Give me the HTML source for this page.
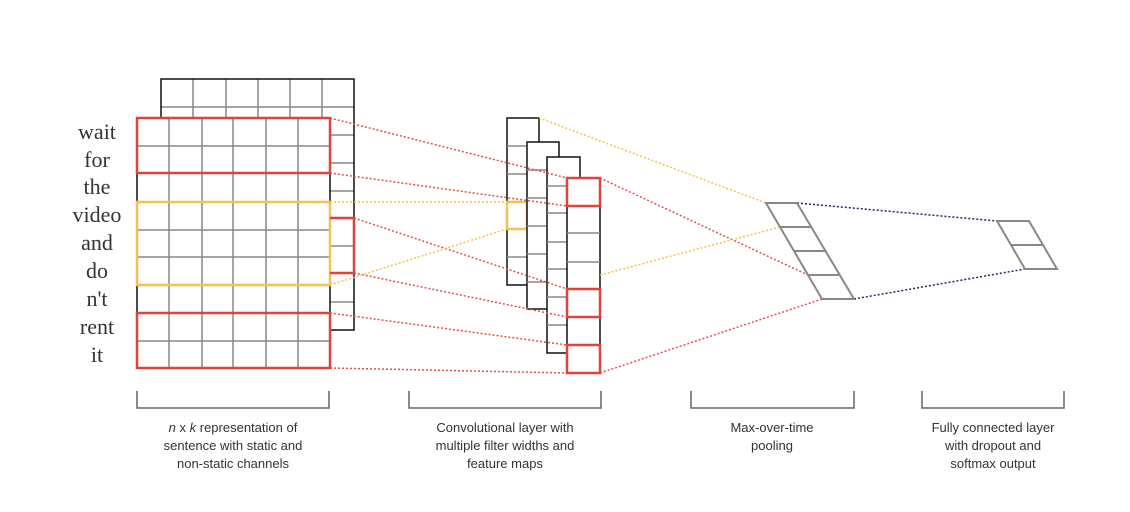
<!DOCTYPE html>
<html><head><meta charset="utf-8"><style>
html,body{margin:0;padding:0;background:#fff;}
svg{display:block;}
.w{font-family:"Liberation Serif",serif;font-size:22px;fill:#333;text-anchor:middle;}
.l{font-family:"Liberation Sans",sans-serif;font-size:13px;fill:#333;text-anchor:middle;}
</style></head><body>
<svg width="1130" height="512" viewBox="0 0 1130 512" xmlns="http://www.w3.org/2000/svg">
<rect width="1130" height="512" fill="#fff"/>
<!-- back matrix -->
<g stroke="#888" stroke-width="1.5" fill="none">
<line x1="161" y1="107" x2="354" y2="107"/>
<line x1="193" y1="79" x2="193" y2="118"/><line x1="226" y1="79" x2="226" y2="118"/>
<line x1="258" y1="79" x2="258" y2="118"/><line x1="290" y1="79" x2="290" y2="118"/>
<line x1="322" y1="79" x2="322" y2="118"/>
<line x1="330" y1="135" x2="354" y2="135"/><line x1="330" y1="163" x2="354" y2="163"/>
<line x1="330" y1="191" x2="354" y2="191"/><line x1="330" y1="246" x2="354" y2="246"/>
<line x1="330" y1="302" x2="354" y2="302"/>
</g>
<polyline points="161,118 161,79 354,79 354,330 330,330" fill="#fff" stroke="#111" stroke-width="1.5" fill-opacity="0"/>
<!-- front matrix -->
<rect x="137" y="118" width="193" height="250" fill="#fff" stroke="#111" stroke-width="1.5"/>
<g stroke="#888" stroke-width="1.5">
<line x1="169" y1="118" x2="169" y2="368"/><line x1="202" y1="118" x2="202" y2="368"/>
<line x1="233" y1="118" x2="233" y2="368"/><line x1="266" y1="118" x2="266" y2="368"/>
<line x1="298" y1="118" x2="298" y2="368"/>
<line x1="137" y1="146" x2="330" y2="146"/><line x1="137" y1="173" x2="330" y2="173"/>
<line x1="137" y1="202" x2="330" y2="202"/><line x1="137" y1="230" x2="330" y2="230"/>
<line x1="137" y1="257" x2="330" y2="257"/><line x1="137" y1="285" x2="330" y2="285"/>
<line x1="137" y1="313" x2="330" y2="313"/><line x1="137" y1="341" x2="330" y2="341"/>
</g>
<rect x="137" y="118" width="193" height="55" fill="none" stroke="#e0433a" stroke-width="2.5"/>
<rect x="137" y="202" width="193" height="83" fill="none" stroke="#f5c04e" stroke-width="2.5"/>
<rect x="137" y="313" width="193" height="55" fill="none" stroke="#e0433a" stroke-width="2.5"/>
<polyline points="330,218 354,218 354,273 330,273" fill="none" stroke="#e0433a" stroke-width="2.5"/>
<!-- words -->
<g class="w">
<text x="97" y="139">wait</text><text x="97" y="167">for</text><text x="97" y="194">the</text>
<text x="97" y="222">video</text><text x="97" y="250">and</text><text x="97" y="278">do</text>
<text x="97" y="306">n't</text><text x="97" y="334">rent</text><text x="97" y="362">it</text>
</g>
<!-- feature maps -->
<g stroke-width="1.5">
<rect x="507" y="118" width="32" height="167" fill="#fff" stroke="#111"/>
<g stroke="#888"><line x1="507" y1="146" x2="527" y2="146"/><line x1="507" y1="174" x2="527" y2="174"/><line x1="507" y1="257" x2="527" y2="257"/></g>
<rect x="507" y="202" width="20" height="27" fill="none" stroke="#f5c04e" stroke-width="2.5"/>
<rect x="527" y="142" width="32" height="167" fill="#fff" stroke="#111"/>
<g stroke="#888"><line x1="527" y1="170" x2="547" y2="170"/><line x1="527" y1="198" x2="547" y2="198"/><line x1="527" y1="226" x2="547" y2="226"/><line x1="527" y1="254" x2="547" y2="254"/><line x1="527" y1="282" x2="547" y2="282"/></g>
<rect x="547" y="157" width="33" height="196" fill="#fff" stroke="#111"/>
<g stroke="#888"><line x1="547" y1="186" x2="567" y2="186"/><line x1="547" y1="213" x2="567" y2="213"/><line x1="547" y1="242" x2="567" y2="242"/><line x1="547" y1="269" x2="567" y2="269"/><line x1="547" y1="297" x2="567" y2="297"/><line x1="547" y1="325" x2="567" y2="325"/></g>
<rect x="567" y="178" width="33" height="195" fill="#fff" stroke="#111"/>
<g stroke="#888"><line x1="567" y1="233" x2="600" y2="233"/><line x1="567" y1="262" x2="600" y2="262"/></g>
<g fill="none" stroke="#e0433a" stroke-width="2.5">
<rect x="567" y="178" width="33" height="28"/><rect x="567" y="289" width="33" height="28"/><rect x="567" y="345" width="33" height="28"/>
</g>
</g>
<!-- connectors -->
<g stroke-width="1.5" stroke-dasharray="2,2" fill="none">
<g stroke="#d9534f">
<line x1="330" y1="118" x2="567" y2="178"/><line x1="330" y1="173" x2="567" y2="206"/>
<line x1="354" y1="218" x2="567" y2="289"/><line x1="354" y1="273" x2="567" y2="317"/>
<line x1="330" y1="313" x2="567" y2="345"/><line x1="330" y1="368" x2="567" y2="373"/>
<line x1="600" y1="178" x2="808" y2="275"/><line x1="600" y1="373" x2="822" y2="299"/>
</g>
<g stroke="#f5c04e">
<line x1="330" y1="202" x2="507" y2="202"/><line x1="330" y1="285" x2="507" y2="229"/>
<line x1="539" y1="118" x2="766" y2="203"/><line x1="600" y1="275" x2="780" y2="227"/>
</g>
<g stroke="#1f2a5a">
<line x1="797" y1="203" x2="997" y2="221"/><line x1="854" y1="299" x2="1025" y2="269"/>
</g>
</g>
<!-- pooling -->
<g stroke="#888" stroke-width="2" fill="none">
<polygon points="766,203 797,203 854,299 822,299"/>
<line x1="780" y1="227" x2="811" y2="227"/><line x1="794" y1="251" x2="825" y2="251"/><line x1="808" y1="275" x2="840" y2="275"/>
<polygon points="997,221 1029,221 1057,269 1025,269"/>
<line x1="1011" y1="245" x2="1043" y2="245"/>
</g>
<!-- brackets -->
<g stroke="#666" stroke-width="1.5" fill="none">
<polyline points="137,391 137,408 329,408 329,391"/>
<polyline points="409,391 409,408 601,408 601,391"/>
<polyline points="691,391 691,408 854,408 854,391"/>
<polyline points="922,391 922,408 1064,408 1064,391"/>
</g>
<g class="l">
<text x="233" y="432"><tspan font-style="italic">n</tspan> x <tspan font-style="italic">k</tspan> representation of</text>
<text x="233" y="450">sentence with static and</text>
<text x="233" y="468">non-static channels</text>
<text x="505" y="432">Convolutional layer with</text>
<text x="505" y="450">multiple filter widths and</text>
<text x="505" y="468">feature maps</text>
<text x="772" y="432">Max-over-time</text>
<text x="772" y="450">pooling</text>
<text x="993" y="432">Fully connected layer</text>
<text x="993" y="450">with dropout and</text>
<text x="993" y="468">softmax output</text>
</g>
</svg>
</body></html>
